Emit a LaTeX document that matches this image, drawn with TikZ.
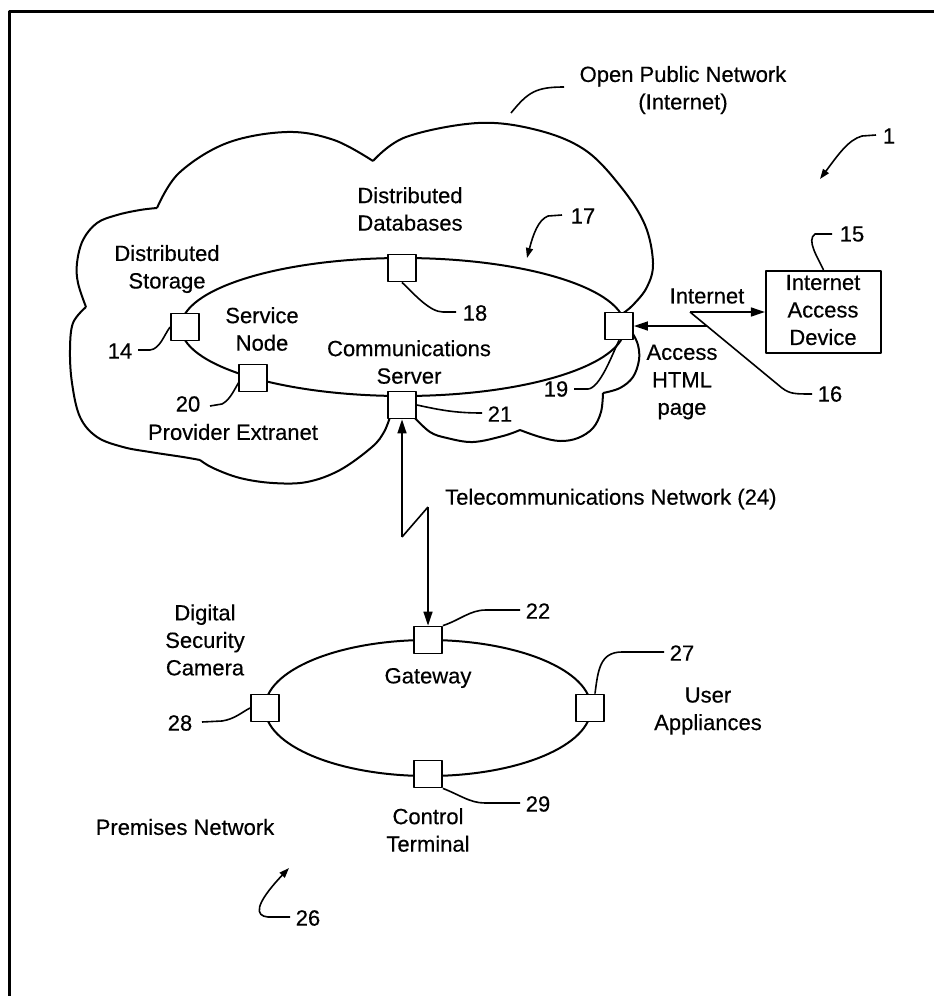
\documentclass[tikz,border=0pt]{standalone}
\usepackage{fontspec}
\setmainfont{Liberation Sans}
\newfontfamily\lf[FakeBold=0.4]{Liberation Sans}
\usetikzlibrary{arrows.meta}
\begin{document}
\begin{tikzpicture}[x=1pt,y=-1pt,
  lbl/.style={inner sep=0pt, align=center, font=\lf\fontsize{22}{27.5}\selectfont},
  num/.style={inner sep=0pt, font=\lf\fontsize{22}{27.5}\selectfont},
  box/.style={draw, fill=white, minimum width=28pt, minimum height=27pt, inner sep=0pt, line width=1.8pt},
  net/.style={line width=2pt},
  lead/.style={line width=1.6pt},
  arr/.style={-{Triangle[length=14pt,width=9pt]}},
  larr/.style={-{Triangle[length=10pt,width=7pt]}},
  line join=round]
\fill[white] (0,0) rectangle (936,996);
\useasboundingbox (0,0) rectangle (936,996);
% frame
\draw[line width=3pt] (9,996) -- (9,11) -- (934,11);

% cloud
\draw[net] plot[smooth,tension=0.6] coordinates {(157,208) (179,173) (227,143) (287,132) (334,140) (373,161)};
\draw[net] plot[smooth,tension=0.6] coordinates {(373,161) (406,137) (478,123) (537,130) (585,150) (621,187) (645,225) (653,263) (647,287) (633,305) (622,314)};
\draw[net] plot[smooth,tension=0.6] coordinates {(633,334) (638,345) (639,360) (633,377) (620,388) (603,393)};
\draw[net] plot[smooth,tension=0.6] coordinates {(603,393) (601,412) (593,428) (578,438) (560,441) (540,437) (520,430)};
\draw[net] plot[smooth,tension=0.6] coordinates {(520,430) (503,436) (473,442) (447,438) (430,432) (414,417)};
\draw[net] plot[smooth,tension=0.6] coordinates {(390,417) (384,432) (372,447) (340,470) (307,482) (273,483) (240,478) (213,468) (200,460)};
\draw[net] plot[smooth,tension=0.6] coordinates {(200,460) (183,457) (150,452) (123,447) (97,437) (80,417) (72,383) (70,350) (73,323) (86,307)};
\draw[net] plot[smooth,tension=0.6] coordinates {(86,307) (78,283) (77,263) (83,240) (97,223) (117,215) (140,210) (157,208)};

% ellipses
\draw[net] (403,327) ellipse [x radius=222, y radius=69];
\draw[net] (428,708) ellipse [x radius=163, y radius=68];

% boxes
\node[box] (b14) at (185,327) {};
\node[box] (b18) at (402,268) {};
\node[box] (b20) at (253,378) {};
\node[box] (b21) at (402,405) {};
\node[box] (b19) at (619,326) {};
\node[draw, line width=2.2pt, fill=white, minimum width=115pt, minimum height=82pt, inner sep=0pt] (b15) at (823.5,312) {};
\node[lbl] (t15) at (823,310) {Internet\\Access\\Device};
\node[box] (b22) at (428,640) {};
\node[box] (b28) at (265,708) {};
\node[box] (b29) at (428,774) {};
\node[box] (b27) at (590,708) {};

% labels
\node[lbl] (opn) at (683,90) {Open Public Network\\(Internet)};
\node[lbl] (ddb) at (410,209) {Distributed\\Databases};
\node[lbl] (dst) at (167,269) {Distributed\\Storage};
\node[lbl] (svn) at (262,329) {Service\\Node};
\node[lbl] (cms) at (409,362) {Communications\\Server};
\node[lbl] (pex) at (233,432) {Provider Extranet};
\node[lbl] (inet) at (707,296) {Internet};
\node[lbl] (ahp) at (682,382) {Access\\HTML\\page};
\node[lbl, anchor=west] (tcn) at (445,499) {Telecommunications Network (24)};
\node[lbl] (dsc) at (205,640) {Digital\\Security\\Camera};
\node[lbl] (gw) at (428,678) {Gateway};
\node[lbl] (ua) at (708,711) {User\\Appliances};
\node[lbl] (ct) at (428,830) {Control\\Terminal};
\node[lbl] (pn) at (185,827) {Premises Network};

% numbers
\node[num] (n1) at (889,136) {1};
\node[num] (n14) at (120,351) {14};
\node[num] (n15) at (852,234) {15};
\node[num] (n16) at (830,394) {16};
\node[num] (n17) at (583,216) {17};
\node[num] (n18) at (475,313) {18};
\node[num] (n19) at (556,389) {19};
\node[num] (n20) at (188,404) {20};
\node[num] (n21) at (500,414) {21};
\node[num] (n22) at (538,611) {22};
\node[num] (n26) at (308,918) {26};
\node[num] (n27) at (682,653) {27};
\node[num] (n28) at (180,723) {28};
\node[num] (n29) at (538,804) {29};

% leaders
\draw[lead] (511,113) .. controls (528,92) and (536,87) .. (564,87);
\draw[lead,larr] (876,135) -- (862,136) .. controls (848,140) and (838,155) .. (820,179);
\draw[lead,larr] (562,215) -- (548,216) .. controls (538,220) and (533,235) .. (527,258);
\draw[lead] (138,350) -- (150,350) .. controls (160,349) and (164,335) .. (b14.west);
\draw[lead] (210,406) -- (222,404) .. controls (230,400) and (234,390) .. (239,382);
\draw[lead] (b18.south) .. controls (415,295) and (430,312) .. (443,312) -- (456,312);
\draw[lead] (b21.east) .. controls (440,410) and (455,413) .. (482,413);
\draw[lead] (b19.south) .. controls (612,355) and (600,388) .. (588,389) -- (574,389);
\draw[lead] (b15.north) .. controls (818,258) and (806,240) .. (815,234) -- (832,234);
\draw[lead] (b22.north east) .. controls (460,620) and (470,610) .. (486,610) -- (520,610);
\draw[lead] (202,722) -- (222,721) .. controls (235,719) and (242,712) .. (b28.west);
\draw[lead] (b29.south east) .. controls (460,795) and (470,803) .. (485,803) -- (520,803);
\draw[lead] ([xshift=5pt]b27.north) .. controls (598,670) and (600,652) .. (622,652) -- (664,652);
\draw[lead,larr] (290,917) -- (268,917) .. controls (255,916) and (254,905) .. (289,868);

% internet link
\coordinate (i1) at (690,312);
\coordinate (i2) at (707,326);
\draw[lead,arr] (i1) -- (b15.west |- i1);
\draw[lead,arr] (i2) -- (b19.east |- i2);
\draw[lead] (i1) -- (782,388) .. controls (790,394) and (795,394) .. (812,394);

% telecom link
\coordinate (z1) at (402,537);
\coordinate (z2) at (428,507);
\draw[lead,arr] (z1) -- (b21.south);
\draw[lead] (z1) -- (z2);
\draw[lead,arr] (z2) -- (b22.north);
\end{tikzpicture}
\end{document}
